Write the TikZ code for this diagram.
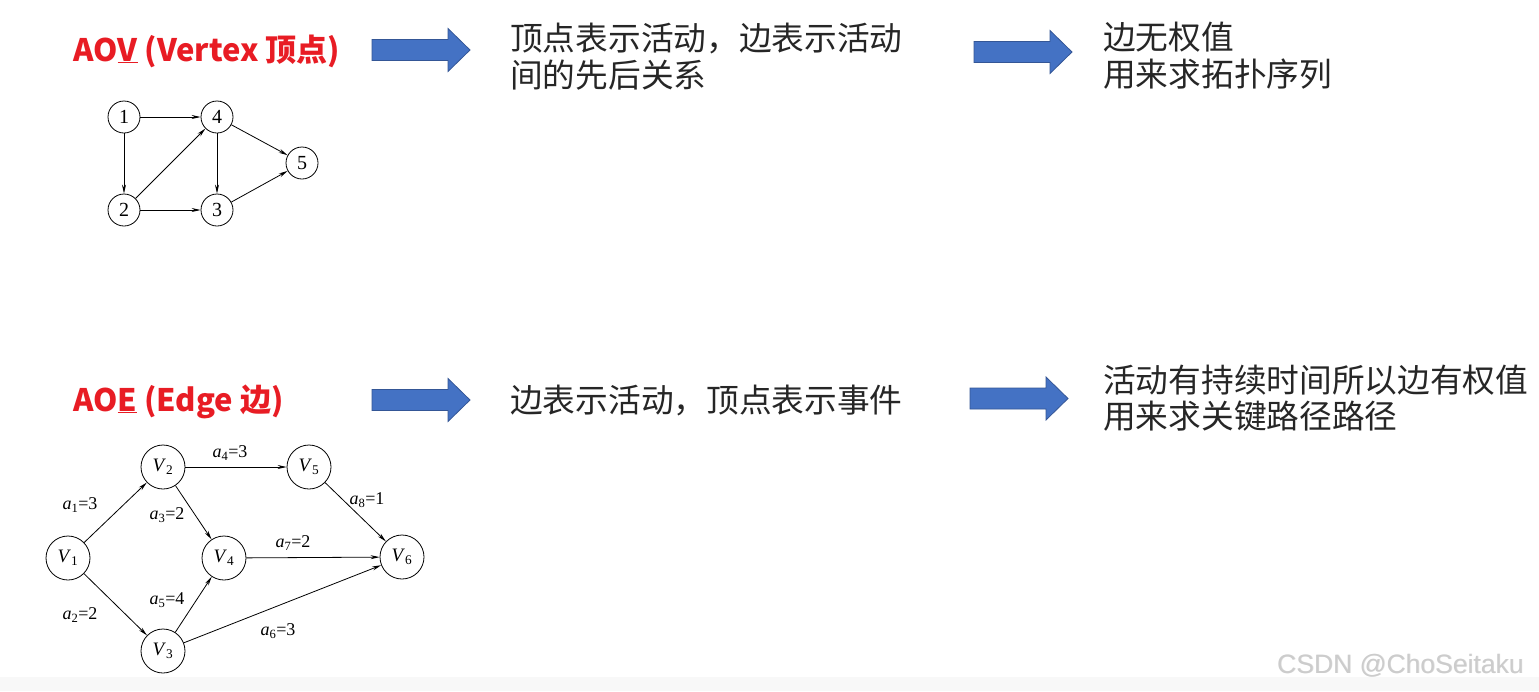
\documentclass[tikz,border=0pt]{standalone}
\usepackage{fontspec}
\setmainfont{Liberation Serif}
\newfontfamily\cjk{Noto Sans CJK SC}
\newfontfamily\wmfont{Liberation Sans}
\usetikzlibrary{arrows.meta}
\definecolor{titlered}{RGB}{232,28,36}
\definecolor{arrowblue}{RGB}{68,114,196}
\definecolor{arrowedge}{RGB}{52,86,150}
\definecolor{bandgray}{RGB}{248,248,248}
\tikzset{
  bluearrow/.style={fill=arrowblue,draw=arrowedge,line width=0.8pt,line join=miter},
  pics/bigarrow/.style={code={
    \draw[bluearrow] (0,-10.5) -- (76,-10.5) -- (76,-21.5) -- (98,0) -- (76,21.5) -- (76,10.5) -- (0,10.5) -- cycle;}},
  titletext/.style={anchor=base west,inner sep=0pt,text=titlered,font=\cjk\bfseries\fontsize{31}{34}\selectfont},
  bodytext/.style={anchor=base west,inner sep=0pt,text=black!85,font=\cjk\fontsize{32.7}{37}\selectfont},
  aovnode/.style={circle,draw,line width=0.8pt,minimum size=32pt,inner sep=0pt,font=\fontsize{20}{20}\selectfont},
  aoenode/.style={circle,draw,line width=0.8pt,minimum size=44pt,inner sep=0pt,font=\fontsize{19}{19}\selectfont},
  edge/.style={line width=0.8pt,-{Stealth[length=9pt,width=4pt]}},
  elabel/.style={inner sep=0pt,font=\fontsize{18}{18}\selectfont},
}
\newcommand{\vx}[1]{\textit{V}\textsubscript{#1}}
\newcommand{\ea}[2]{\textit{a}\textsubscript{#1}=#2}
\begin{document}
\begin{tikzpicture}[x=1pt,y=-1pt]
\useasboundingbox (0,0) rectangle (1539,691);
\fill[white] (0,0) rectangle (1539,677);
\fill[bandgray] (0,677) rectangle (1539,691);

% titles
\node[titletext] (aovtitle) at (73,61) {AO\underline{V} (Vertex 顶点)};
\node[titletext] (aoetitle) at (73,411) {AO\underline{E} (Edge 边)};

% big arrows
\pic at (372,50) {bigarrow};
\pic at (974,52) {bigarrow};
\pic at (372,400) {bigarrow};
\pic at (970,398.5) {bigarrow};

% texts
\node[bodytext] (t1a) at (510,50) {顶点表示活动，边表示活动};
\node[bodytext] (t1b) at (510,87) {间的先后关系};
\node[bodytext] (t2a) at (1103,49) {边无权值};
\node[bodytext] (t2b) at (1103,86) {用来求拓扑序列};
\node[bodytext] (t3a) at (510,412) {边表示活动，顶点表示事件};
\node[bodytext] (t4a) at (1103,392) {活动有持续时间所以边有权值};
\node[bodytext] (t4b) at (1103,428) {用来求关键路径路径};

% AOV graph
\node[aovnode] (n1) at (124,117) {1};
\node[aovnode] (n4) at (217,117) {4};
\node[aovnode] (n5) at (302,163) {5};
\node[aovnode] (n2) at (124,210) {2};
\node[aovnode] (n3) at (217,210) {3};
\draw[edge] (n1) -- (n4);
\draw[edge] (n1) -- (n2);
\draw[edge] (n2) -- (n4);
\draw[edge] (n2) -- (n3);
\draw[edge] (n4) -- (n3);
\draw[edge] (n4) -- (n5);
\draw[edge] (n3) -- (n5);

% AOE graph
\node[aoenode] (v1) at (68,558) {\vx{1}};
\node[aoenode] (v2) at (163,467) {\vx{2}};
\node[aoenode] (v5) at (309,467) {\vx{5}};
\node[aoenode] (v4) at (224,558) {\vx{4}};
\node[aoenode] (v6) at (402,557) {\vx{6}};
\node[aoenode] (v3) at (163,651) {\vx{3}};
\draw[edge] (v1) -- (v2);
\draw[edge] (v1) -- (v3);
\draw[edge] (v2) -- (v5);
\draw[edge] (v2) -- (v4);
\draw[edge] (v3) -- (v4);
\draw[edge] (v4) -- (v6);
\draw[edge] (v3) -- (v6);
\draw[edge] (v5) -- (v6);
\node[elabel] (l1) at (80,505) {\ea{1}{3}};
\node[elabel] (l2) at (80,615) {\ea{2}{2}};
\node[elabel] (l4) at (230,453) {\ea{4}{3}};
\node[elabel] (l3) at (167,515) {\ea{3}{2}};
\node[elabel] (l5) at (167,600) {\ea{5}{4}};
\node[elabel] (l7) at (293,543) {\ea{7}{2}};
\node[elabel] (l6) at (278,631) {\ea{6}{3}};
\node[elabel] (l8) at (367,500) {\ea{8}{1}};

% watermark
\node[anchor=base west,inner sep=0pt,text=black!12,font=\wmfont\fontsize{26.5}{26.5}\selectfont] (wm0) at (1277.7,673.7) {CSDN @ChoSeitaku};
\node[anchor=base west,inner sep=0pt,text=black!20,font=\wmfont\fontsize{26.5}{26.5}\selectfont] (wm) at (1277,673) {CSDN @ChoSeitaku};
\end{tikzpicture}
\end{document}
